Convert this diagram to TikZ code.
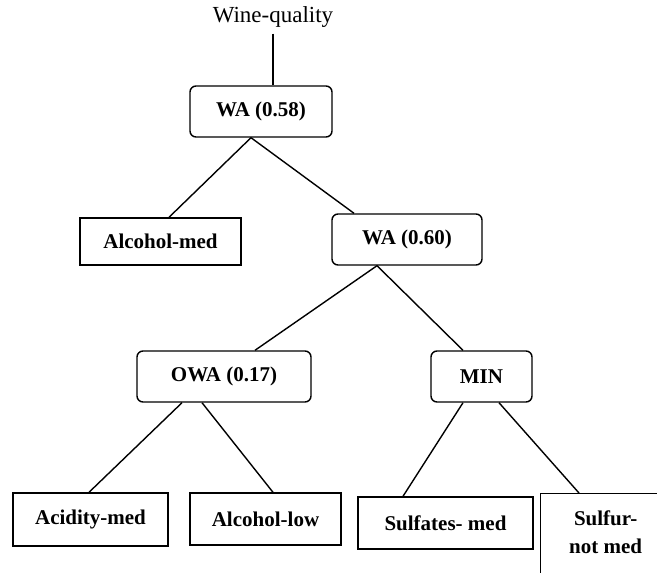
\documentclass[tikz,border=0pt]{standalone}
\usepackage{fontspec}
\setmainfont{Liberation Serif}
\usetikzlibrary{calc}

\begin{document}
\begin{tikzpicture}[
  x=1pt,y=-1pt,
  op/.style={draw,rounded corners=6pt,line width=1.4pt,inner sep=0pt,minimum height=51pt,font=\fontsize{21}{28}\selectfont\bfseries},
  leaf/.style={draw,line width=1.4pt,inner sep=0pt,align=center,font=\fontsize{21}{28}\selectfont\bfseries},
  edge/.style={line width=1.4pt}
]
\clip (0,0) rectangle (657,573);

% root label and aggregation operators
\node[font=\fontsize{23}{28}\selectfont,inner xsep=0pt,inner ysep=6pt] (wq) at (273,17) {Wine-quality};
\node[op,minimum width=142pt] (wa1) at (261,111.5) {WA (0.58)};
\node[op,minimum width=150pt] (wa2) at (407,239.5) {WA (0.60)\hspace{12pt}};
\node[op,minimum width=174pt] (owa) at (224,376.5) {OWA (0.17)\hspace{18pt}};
\node[op,minimum width=101pt] (minop) at (481.5,376.5) {MIN\hspace{12pt}};

% leaves
\node[leaf,minimum width=161pt,minimum height=47pt] (almed) at (160.5,241.5) {Alcohol-med};
\node[leaf,minimum width=155pt,minimum height=53pt] (acid) at (90.5,519.5) {Acidity-med};
\node[leaf,minimum width=151pt,minimum height=52pt] (allow) at (265.5,519) {Alcohol-low};
\node[leaf,minimum width=175pt,minimum height=52pt] (sulfates) at (445.5,523) {Sulfates- med};
\node[leaf,anchor=north west,minimum width=130pt,minimum height=110pt,text depth=34pt] (sulfur) at (540,493) {Sulfur-\\not med};

% connectors
\draw[edge] (wq.south) -- (wq.south |- wa1.north);
\draw[edge] ([xshift=-10pt]wa1.south) -- ([xshift=8.5pt]almed.north);
\draw[edge] ([xshift=-10pt]wa1.south) -- ([xshift=-53pt]wa2.north);
\draw[edge] ([xshift=-30pt]wa2.south) -- ([xshift=31pt]owa.north);
\draw[edge] ([xshift=-30pt]wa2.south) -- ([xshift=-18.5pt]minop.north);
\draw[edge] ([xshift=-42pt]owa.south) -- ([xshift=-1.5pt]acid.north);
\draw[edge] ([xshift=-22pt]owa.south) -- ([xshift=7.5pt]allow.north);
\draw[edge] ([xshift=-18.5pt]minop.south) -- ([xshift=-42.5pt]sulfates.north);
\draw[edge] ([xshift=17.5pt]minop.south) -- ([xshift=39pt]sulfur.north west);
\end{tikzpicture}
\end{document}
